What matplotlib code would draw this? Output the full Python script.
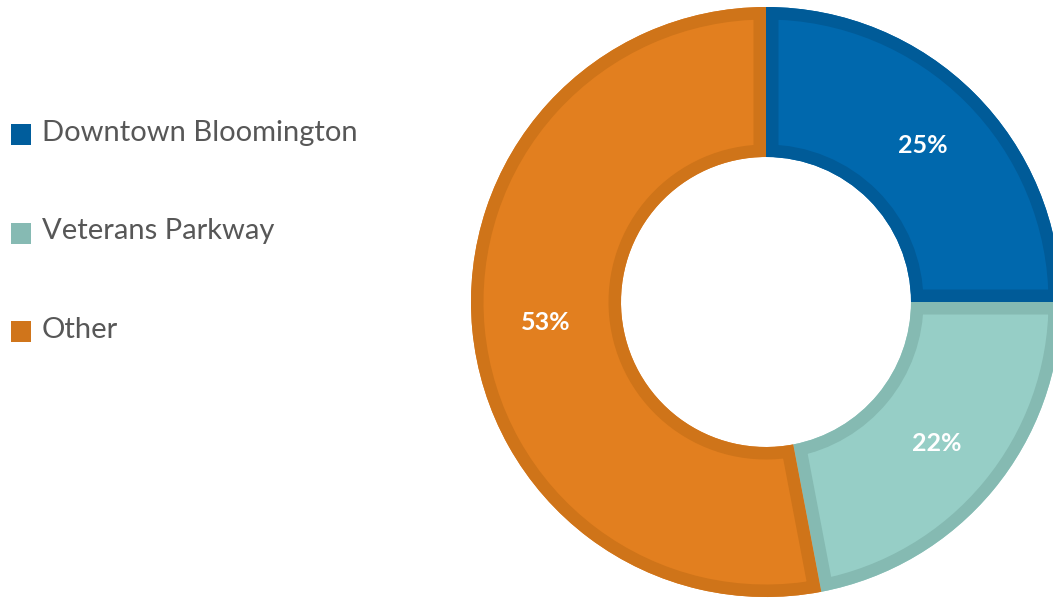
import matplotlib.pyplot as plt
from matplotlib.patches import Rectangle, Wedge

labels = ['Downtown Bloomington', 'Veterans Parkway', 'Other']
shares = [25, 22, 53]
fill_colors = ['#0068ad', '#96cec6', '#e27f1f']
edge_colors = ['#005b98', '#85bab2', '#cf7419']
legend_colors = ['#005d9c', '#86bab3', '#d0751b']

W, H = 1053, 599
fig = plt.figure(figsize=(W / 100, H / 100), dpi=100)
ax = fig.add_axes([0, 0, 1, 1])

# donut, laid out in pixel units so it can run off the right edge
cx, cy, R = 766, H - 302, 295
wedges, _, autotexts = ax.pie(
    shares, center=(cx, cy), radius=R, startangle=90, counterclock=False,
    colors=fill_colors, autopct=lambda p: f'{round(p)}%', pctdistance=0.75,
    wedgeprops=dict(width=150, linewidth=0),
    textprops=dict(color='white', fontsize=18, fontweight='bold', family='Lato'))

# thick outline clipped to each wedge -> border only on the inside
for w, ec in zip(wedges, edge_colors):
    rim = Wedge(w.center, w.r, w.theta1, w.theta2, width=w.width,
                facecolor='none', edgecolor=ec, linewidth=18)
    ax.add_patch(rim)
    rim.set_clip_path(w)
for t in autotexts:
    t.set_zorder(5)

ax.set_xlim(0, W)
ax.set_ylim(0, H)
ax.set_aspect('auto')
ax.axis('off')

# legend on the left
for i, (lab, col) in enumerate(zip(labels, legend_colors)):
    y = H - (134.5 + i * 98.5)
    ax.add_patch(Rectangle((11, y - 10.5), 20, 21, facecolor=col, edgecolor='none'))
    ax.text(42, y + 2, lab, fontsize=21, family='Lato',
            color='#575757', va='center', ha='left')

fig.savefig('out.png', dpi=100)
